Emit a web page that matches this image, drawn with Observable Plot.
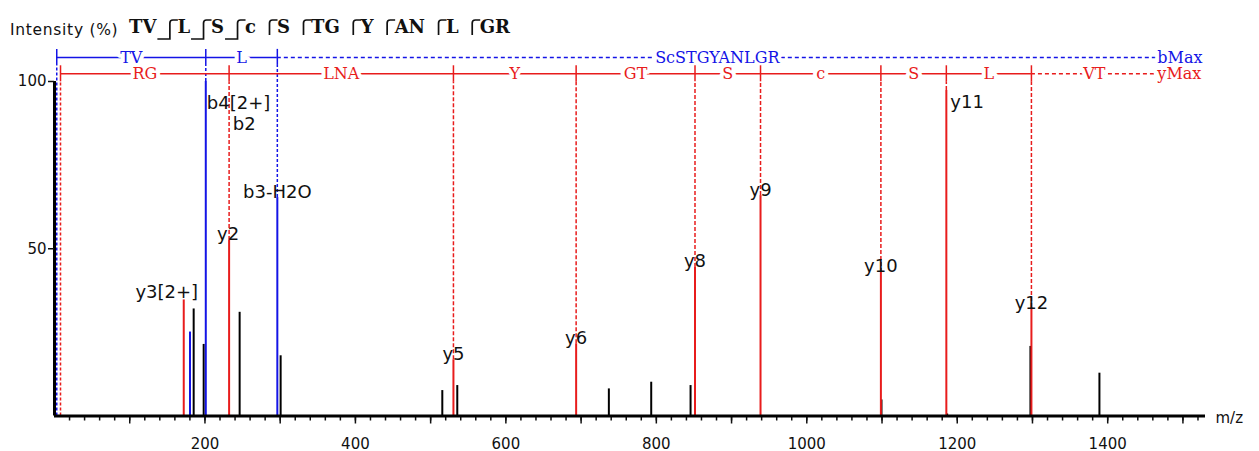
<!DOCTYPE html>
<html>
<head>
<meta charset="utf-8">
<script src="https://cdn.jsdelivr.net/npm/d3@7"></script>
<script src="https://cdn.jsdelivr.net/npm/@observablehq/plot@0.6"></script>
<style>
  body { margin: 0; background: #fff; }
  svg { display: block; }
</style>
</head>
<body>
<div id="chart"></div>
<script>
// Peptide sequence and the positions (after residue n) where fragments were observed
const residues = ["T", "V", "L", "S", "c", "S", "T", "G", "Y", "A", "N", "L", "G", "R"];
const bBreaks = [2, 3, 4];
const yBreaks = [2, 3, 4, 5, 6, 8, 9, 11, 12];

// Assigned y-series ions (ladder members)
const yIonNames = ["y2", "y5", "y6", "y8", "y9", "y10", "y11", "y12"];
const yIonMz = [232.1, 530.3, 693.4, 851.4, 938.5, 1098.5, 1185.5, 1298.6];
const yIonIntensity = [52.5, 16.8, 21.6, 44.4, 65.9, 42.9, 97.3, 32.4];

// Assigned b-series ions (ladder members)
const bIonNames = ["b4[2+]", "b3-H2O"];
const bIonMz = [201.1, 296.2];
const bIonIntensity = [100, 65.3];

// Other assigned peaks
const extraYNames = ["y3[2+]"];
const extraYMz = [171.8];
const extraYIntensity = [34.7];
const extraBMz = [180.1];
const extraBIntensity = [25.1];
const extraLabelText = ["b2"];
const extraLabelMz = [201.1];
const extraLabelIntensity = [100];

// Unassigned peaks
const otherMz = [185.0, 198.3, 246.1, 300.6, 515.5, 535.4, 736.9, 793.2, 845.5, 1099.3, 1186.6, 1297.3, 1389.0];
const otherIntensity = [32.0, 21.4, 31.0, 18.0, 7.6, 9.1, 8.1, 10.1, 9.1, 4.8, 0.6, 20.8, 12.8];

// Sequence ladders drawn above the spectrum
const bLadderCuts = [3, 201.1, 296.2];
const bLadderResidues = ["TV", "L"];
const bLadderRest = "ScSTGYANLGR";
const yLadderCuts = [8, 232.1, 530.3, 693.4, 851.4, 938.5, 1098.5, 1185.5, 1298.6];
const yLadderResidues = ["RG", "LNA", "Y", "GT", "S", "c", "S", "L"];
const yLadderRest = "VT";

// Axis ticks
const xMajorTicks = d3.range(100, 1501, 100);
const xMinorTicks = d3.range(20, 1521, 20);
const yTicks = [50, 100];

// ---- layout and style ----
const RED = "#e81c1c";
const BLUE = "#1414e6";
const INK = "#111";
const xMax = 1530;
const ladderEnd = 1466;          // where the bMax / yMax markers sit
const bLevel = 107.2;            // ladder heights in intensity units
const yLevel = 102.3;
const tickHalf = 2.4;
const serif = "DejaVu Serif";

// label offsets (pixels) for individual peak annotations
const labelStyle = {
  "y3[2+]": {dx: -17, dy: -2},
  "b4[2+]": {dx: 1, dy: 27, anchor: "start"},
  "b2": {dx: 27, dy: 48, anchor: "start"},
  "y2": {dx: -1, dy: 0},
  "y11": {dx: 4, dy: 17, anchor: "start"},
  "y12": {dx: 0, dy: 1}
};

const zip = (names, mz, inten) => mz.map((m, i) => ({name: names ? names[i] : null, mz: m, intensity: inten[i]}));
const yIons = zip(yIonNames, yIonMz, yIonIntensity);
const bIons = zip(bIonNames, bIonMz, bIonIntensity);
const extraY = zip(extraYNames, extraYMz, extraYIntensity);
const extraB = zip(null, extraBMz, extraBIntensity);
const others = zip(null, otherMz, otherIntensity);
const labels = [...bIons, ...zip(extraLabelText, extraLabelMz, extraLabelIntensity), ...extraY, ...yIons];

function ladderSegments(cuts, names) {
  return names.map((n, i) => ({name: n, mid: (cuts[i] + cuts[i + 1]) / 2}));
}
const bSegs = ladderSegments(bLadderCuts, bLadderResidues);
const ySegs = ladderSegments(yLadderCuts, yLadderResidues);
const bLast = bLadderCuts[bLadderCuts.length - 1];
const yLast = yLadderCuts[yLadderCuts.length - 1];

// ---- header: axis title and fragment map of the sequence ----
const root = document.getElementById("chart");
const header = d3.create("svg").attr("width", 1259).attr("height", 40);
root.append(header.node());
header.append("text").attr("x", 10).attr("y", 34.5)
  .attr("font-family", "DejaVu Sans").attr("font-size", 15.5).attr("letter-spacing", 0.7).attr("fill", INK)
  .text("Intensity (%)");

const allBreaks = [...new Set([...bBreaks, ...yBreaks])].sort((a, b) => a - b);
const groups = [];
let s = 0;
for (const c of [...allBreaks, residues.length]) { groups.push({text: residues.slice(s, c).join(""), after: c}); s = c; }
let hx = 129;
groups.forEach((g, i) => {
  const t = header.append("text").attr("x", hx).attr("y", 33)
    .attr("font-family", serif).attr("font-weight", "bold").attr("font-size", 18).attr("fill", INK)
    .text(g.text);
  hx += t.node().getComputedTextLength();
  if (i < groups.length - 1) {
    const vx = hx + 13.5;
    const d = bBreaks.includes(g.after)
      ? `M${hx + 1},39H${vx}V23Q${vx},20 ${vx + 3},20H${vx + 8}`
      : `M${vx},35V23Q${vx},20 ${vx + 3},20H${vx + 8}`;
    header.append("path").attr("d", d).attr("fill", "none").attr("stroke", INK).attr("stroke-width", 1.7);
    hx = vx + 7.5;
  }
});

// ---- spectrum ----
const ladderText = {fontFamily: serif, fontSize: 16, stroke: "white", strokeWidth: 8, lineAnchor: "middle"};

// one text mark per peak annotation so each can carry its own offset
const labelMarks = labels.map(d => {
  const st = labelStyle[d.name] || {};
  return Plot.text([d], {
    x: "mz", y: "intensity", text: "name",
    dx: st.dx || 0, dy: st.dy || 0,
    textAnchor: st.anchor || "middle", lineAnchor: "bottom",
    fontSize: 18, fill: INK
  });
});

const chart = Plot.plot({
  width: 1259,
  height: 411,
  marginLeft: 54,
  marginRight: 54,
  marginTop: 41,
  marginBottom: 35.5,
  x: {domain: [0, xMax], axis: null},
  y: {domain: [0, 100], axis: null},
  style: {fontFamily: "DejaVu Sans", background: "white", color: INK, overflow: "visible"},
  marks: [
    // ladder origin lines
    Plot.ruleX([bLadderCuts[0]], {y1: 0, y2: bLevel - tickHalf, stroke: BLUE, strokeWidth: 1.5, strokeDasharray: "3,2"}),
    Plot.ruleX([yLadderCuts[0]], {y1: 0, y2: yLevel - tickHalf, stroke: RED, strokeWidth: 1.5, strokeDasharray: "3,2"}),

    // dashed connectors from annotated peaks up to their ladder
    Plot.ruleX(bIons, {x: "mz", y1: "intensity", y2: bLevel - tickHalf, stroke: BLUE, strokeWidth: 1.5, strokeDasharray: "3,2"}),
    Plot.ruleX(yIons, {x: "mz", y1: "intensity", y2: yLevel - tickHalf, stroke: RED, strokeWidth: 1.5, strokeDasharray: "4,2"}),

    // b ladder
    Plot.ruleY([bLevel], {x1: bLadderCuts[0], x2: bLast, stroke: BLUE, strokeWidth: 1.5}),
    Plot.ruleY([bLevel], {x1: bLast, x2: ladderEnd, stroke: BLUE, strokeWidth: 1.5, strokeDasharray: "4,3"}),
    Plot.ruleX(bLadderCuts, {y1: bLevel - tickHalf, y2: bLevel + tickHalf, stroke: BLUE, strokeWidth: 1.5}),
    Plot.text(bSegs, {x: "mid", y: bLevel, text: "name", fill: BLUE, ...ladderText}),
    Plot.text([bLadderRest], {x: (bLast + ladderEnd) / 2, y: bLevel, text: d => d, fill: BLUE, ...ladderText}),
    Plot.text(["bMax"], {x: ladderEnd, y: bLevel, text: d => d, fill: BLUE, textAnchor: "start", ...ladderText}),

    // y ladder
    Plot.ruleY([yLevel], {x1: yLadderCuts[0], x2: yLast, stroke: RED, strokeWidth: 1.5}),
    Plot.ruleY([yLevel], {x1: yLast, x2: ladderEnd, stroke: RED, strokeWidth: 1.5, strokeDasharray: "4,3"}),
    Plot.text(ySegs, {x: "mid", y: yLevel, text: "name", fill: RED, ...ladderText}),
    Plot.text([yLadderRest], {x: (yLast + ladderEnd) / 2, y: yLevel, text: d => d, fill: RED, ...ladderText}),
    Plot.text(["yMax"], {x: ladderEnd, y: yLevel, text: d => d, fill: RED, textAnchor: "start", ...ladderText}),
    Plot.ruleX(yLadderCuts, {y1: yLevel - tickHalf, y2: yLevel + tickHalf, stroke: RED, strokeWidth: 1.5}),

    // peaks
    Plot.ruleX(others, {x: "mz", y1: 0, y2: "intensity", stroke: "#000", strokeWidth: 2}),
    Plot.ruleX([...bIons, ...extraB], {x: "mz", y1: 0, y2: "intensity", stroke: BLUE, strokeWidth: 2}),
    Plot.ruleX([...yIons, ...extraY], {x: "mz", y1: 0, y2: "intensity", stroke: RED, strokeWidth: 2}),

    // peak annotations
    ...labelMarks,

    // axes
    Plot.axisX({ticks: xMinorTicks, tickSize: 5, tickFormat: () => "", label: null, strokeWidth: 1.5}),
    Plot.axisX({ticks: xMajorTicks, tickSize: 8, tickPadding: 14, tickFormat: d => d % 200 ? "" : `${d}`, label: null, fontSize: 15, strokeWidth: 1.5}),
    Plot.ruleY([0], {x1: 0, x2: xMax, stroke: "#000", strokeWidth: 3}),
    Plot.ruleX([0], {y1: 0, y2: 100, stroke: "#000", strokeWidth: 3}),
    Plot.axisY({ticks: yTicks, tickSize: 6, tickPadding: 2, label: null, fontSize: 15, strokeWidth: 1.5}),
    Plot.text(["m/z"], {x: xMax, y: 0, text: d => d, dx: 10, dy: 2, textAnchor: "start", fontSize: 15, fill: INK})
  ]
});

root.append(chart);
</script>
</body>
</html>
